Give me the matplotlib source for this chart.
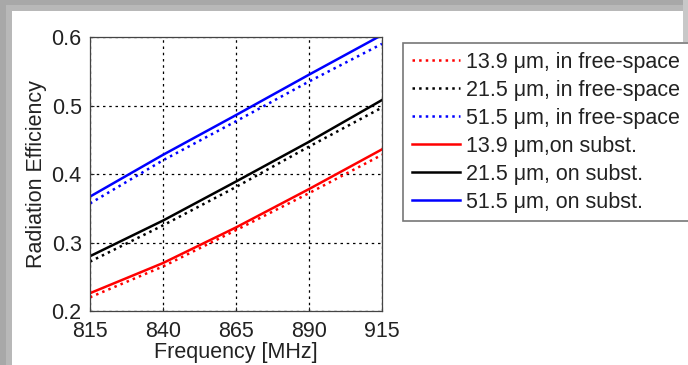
import matplotlib
matplotlib.use("Agg")
import matplotlib.pyplot as plt
from matplotlib.patches import Rectangle

freq = [815, 840, 865, 890, 915]
free_139 = [0.220, 0.265, 0.318, 0.372, 0.428]
free_215 = [0.272, 0.325, 0.381, 0.440, 0.497]
free_515 = [0.357, 0.420, 0.477, 0.535, 0.590]
sub_139 = [0.226, 0.270, 0.322, 0.378, 0.436]
sub_215 = [0.280, 0.332, 0.389, 0.447, 0.508]
sub_515 = [0.367, 0.428, 0.486, 0.545, 0.603]
labels = ["13.9 \u03bcm, in free-space", "21.5 \u03bcm, in free-space",
          "51.5 \u03bcm, in free-space", "13.9 \u03bcm,on subst.",
          "21.5 \u03bcm, on subst.", "51.5 \u03bcm, on subst."]
xticks = [815, 840, 865, 890, 915]
yticks = [0.2, 0.3, 0.4, 0.5, 0.6]

plt.rcParams['font.family'] = ['Liberation Sans', 'DejaVu Sans']
W, H = 688, 365
fig = plt.figure(figsize=(W/100, H/100), dpi=100)
fig.patch.set_facecolor('white')

# gray frame (screenshot border)
def rect(x0, y0, x1, y1, c):
    fig.patches.append(Rectangle((x0/W, 1-y1/H), (x1-x0)/W, (y1-y0)/H,
                                 transform=fig.transFigure, color=c, zorder=0, lw=0))
rect(0, 0, W, 11, '#b8b8b8')
rect(0, 0, 12, H, '#b8b8b8')
rect(0, 0, W, 5, '#a8a8a8')
rect(0, 0, 6, H, '#a8a8a8')
rect(683, 0, W, 42, '#c8c8c8')

ax = fig.add_axes([90/W, 1-311/H, (382-90)/W, (311-37)/H])
colors = ['red', 'black', 'blue']
for ys, c, lab in zip([free_139, free_215, free_515], colors, labels[:3]):
    ax.plot(freq, ys, ':', color=c, lw=1.8, label=lab)
for ys, c, lab in zip([sub_139, sub_215, sub_515], colors, labels[3:]):
    ax.plot(freq, ys, '-', color=c, lw=1.8, label=lab)

ax.set_xlim(815, 915)
ax.set_ylim(0.2, 0.6)
ax.set_xticks(xticks)
ax.set_yticks(yticks)
ax.set_xticklabels([str(v) for v in xticks])
ax.set_yticklabels([f"{v:.1f}" for v in yticks])
ax.tick_params(direction='in', length=3, labelsize=15.5, colors='#222222')
ax.tick_params(axis='x', pad=7)
ax.tick_params(axis='y', pad=6)
ax.grid(True, color='black', linestyle=(0, (2, 3)), lw=0.9)
for s in ax.spines.values():
    s.set_color('#444444')
    s.set_linewidth(0.9)
ax.set_xlabel("Frequency [MHz]", fontsize=15.5, labelpad=0, color='#222222')
ax.set_ylabel("Radiation Efficiency", fontsize=15.5, labelpad=3, color='#222222')

h, l = ax.get_legend_handles_labels()
leg = fig.legend(h, l, loc='upper left', bbox_to_anchor=(403/W, 1-43/H),
                 fontsize=15.5, frameon=True, fancybox=False, handlelength=2.25,
                 handletextpad=0.28, labelspacing=0.325, borderpad=0.4,
                 borderaxespad=0)
leg.get_frame().set_edgecolor('#555555')
leg.get_frame().set_linewidth(1.2)
for t in leg.get_texts():
    t.set_color('#222222')

fig.savefig("out.png", dpi=100)
